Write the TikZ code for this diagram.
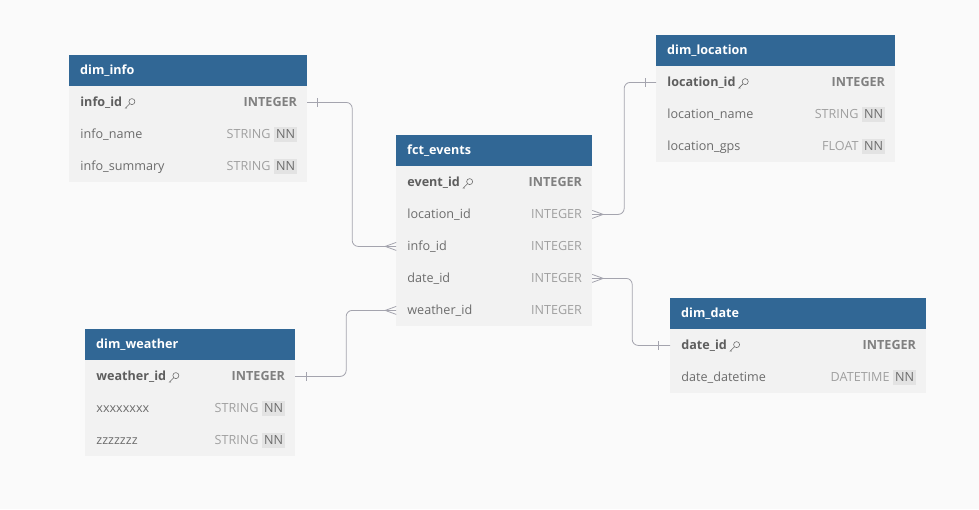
\documentclass[tikz,border=0pt]{standalone}
\usepackage{fontspec}
\setmainfont{Open Sans}
\usetikzlibrary{positioning}
\definecolor{hdrblue}{HTML}{316795}
\definecolor{rowgray}{HTML}{F2F2F2}
\definecolor{bggray}{HTML}{FAFAFA}
\definecolor{namegray}{HTML}{6C6C6C}
\definecolor{pkgray}{HTML}{5E5E5E}
\definecolor{typegray}{HTML}{A0A0A0}
\definecolor{nnfill}{HTML}{E3E3E3}
\definecolor{linegray}{HTML}{A4A4AE}
\newcommand{\tfont}{\fontsize{12.6}{15}\selectfont}
% plain column: node, node above, width, column, type
\newcommand{\fkrow}[5]{%
  \node[row, minimum width=#3, below=0pt of #2] (#1) {};
  \node[colname, right=11pt of #1.west] (#1-n) {#4};
  \node[coltype, left=10pt of #1.east] (#1-t) {#5};}
% column with not-null badge
\newcommand{\nnrow}[5]{%
  \node[row, minimum width=#3, below=0pt of #2] (#1) {};
  \node[colname, right=11pt of #1.west] (#1-n) {#4};
  \node[nnbox, left=10pt of #1.east] (#1-nn) {NN};
  \node[coltype, left=3pt of #1-nn] (#1-t) {#5};}
% primary key column
\newcommand{\pkrow}[5]{%
  \node[row, minimum width=#3, below=0pt of #2] (#1) {};
  \node[colname, pk, right=11pt of #1.west] (#1-n) {#4};
  \draw[keyicon] ([xshift=9.5pt,yshift=0.8pt]#1-n.east) circle (3pt)
    ([xshift=7.4pt,yshift=-1.3pt]#1-n.east) -- ++(-4.4pt,-4.4pt) -- ++(1.8pt,0pt);
  \node[coltype, pk, text=typegray!80!black, left=10pt of #1.east] (#1-t) {#5};}

\begin{document}
\begin{tikzpicture}[x=1pt, y=-1pt,
    hdr/.style={fill=hdrblue, text=white, font=\tfont\bfseries, anchor=north west,
      minimum height=31pt, inner xsep=11pt, inner ysep=0pt, align=left},
    row/.style={fill=rowgray, minimum height=32pt, inner sep=0pt, outer sep=0pt},
    colname/.style={text=namegray, font=\tfont, inner sep=0pt, text height=12pt, text depth=4pt},
    coltype/.style={text=typegray, font=\tfont, inner sep=0pt, text height=12pt, text depth=4pt},
    pk/.style={text=pkgray, font=\tfont\bfseries},
    nnbox/.style={fill=nnfill, text=namegray, font=\tfont, inner xsep=2pt,
      inner ysep=0pt, text height=12pt, text depth=3pt},
    keyicon/.style={draw=namegray, line width=0.6pt},
    rel/.style={draw=linegray, line width=0.8pt, rounded corners=6pt},
    tick/.style={draw=linegray, line width=0.8pt}]
  \fill[bggray] (0,0) rectangle (979,509);
  \useasboundingbox (0,0) rectangle (979,509);

  % dim_info
  \node[hdr, text width=216pt] (info) at (69,55) {dim\_info};
  \pkrow{info-id}{info}{238pt}{info\_id}{INTEGER}
  \nnrow{info-name}{info-id}{238pt}{info\_name}{STRING}
  \nnrow{info-sum}{info-name}{238pt}{info\_summary}{STRING}

  % fct_events
  \node[hdr, text width=174pt] (ev) at (396,135) {fct\_events};
  \pkrow{ev-id}{ev}{196pt}{event\_id}{INTEGER}
  \fkrow{ev-loc}{ev-id}{196pt}{location\_id}{INTEGER}
  \fkrow{ev-info}{ev-loc}{196pt}{info\_id}{INTEGER}
  \fkrow{ev-date}{ev-info}{196pt}{date\_id}{INTEGER}
  \fkrow{ev-weather}{ev-date}{196pt}{weather\_id}{INTEGER}

  % dim_location
  \node[hdr, text width=217pt] (loc) at (656,35) {dim\_location};
  \pkrow{loc-id}{loc}{239pt}{location\_id}{INTEGER}
  \nnrow{loc-name}{loc-id}{239pt}{location\_name}{STRING}
  \nnrow{loc-gps}{loc-name}{239pt}{location\_gps}{FLOAT}

  % dim_weather
  \node[hdr, text width=188pt] (w) at (85,329) {dim\_weather};
  \pkrow{w-id}{w}{210pt}{weather\_id}{INTEGER}
  \nnrow{w-x}{w-id}{210pt}{xxxxxxxx}{STRING}
  \nnrow{w-z}{w-x}{210pt}{zzzzzzz}{STRING}

  % dim_date
  \node[hdr, text width=234pt] (date) at (670,298) {dim\_date};
  \pkrow{date-id}{date}{256pt}{date\_id}{INTEGER}
  \nnrow{date-dt}{date-id}{256pt}{date\_datetime}{DATETIME}

  % relations
  \draw[rel] (info-id.east) -- ++(45,0) |- (ev-info.west);
  \draw[rel] (ev-loc.east) -- ++(32,0) |- (loc-id.west);
  \draw[rel] (ev-date.east) -- ++(40,0) |- (date-id.west);
  \draw[rel] (w-id.east) -- ++(51,0) |- (ev-weather.west);

  % one side
  \draw[tick] ([xshift=10pt,yshift=-4.5pt]info-id.east) -- ++(0pt,9pt);
  \draw[tick] ([xshift=-11pt,yshift=-4.5pt]loc-id.west) -- ++(0pt,9pt);
  \draw[tick] ([xshift=-12pt,yshift=-4.5pt]date-id.west) -- ++(0pt,9pt);
  \draw[tick] ([xshift=11pt,yshift=-4.5pt]w-id.east) -- ++(0pt,9pt);

  % many side
  \draw[tick] ([xshift=-11pt]ev-info.west) -- ([yshift=4pt]ev-info.west)
    ([xshift=-11pt]ev-info.west) -- ([yshift=-4pt]ev-info.west);
  \draw[tick] ([xshift=-11pt]ev-weather.west) -- ([yshift=4pt]ev-weather.west)
    ([xshift=-11pt]ev-weather.west) -- ([yshift=-4pt]ev-weather.west);
  \draw[tick] ([xshift=11pt]ev-loc.east) -- ([yshift=4pt]ev-loc.east)
    ([xshift=11pt]ev-loc.east) -- ([yshift=-4pt]ev-loc.east);
  \draw[tick] ([xshift=11pt]ev-date.east) -- ([yshift=4pt]ev-date.east)
    ([xshift=11pt]ev-date.east) -- ([yshift=-4pt]ev-date.east);
\end{tikzpicture}
\end{document}
